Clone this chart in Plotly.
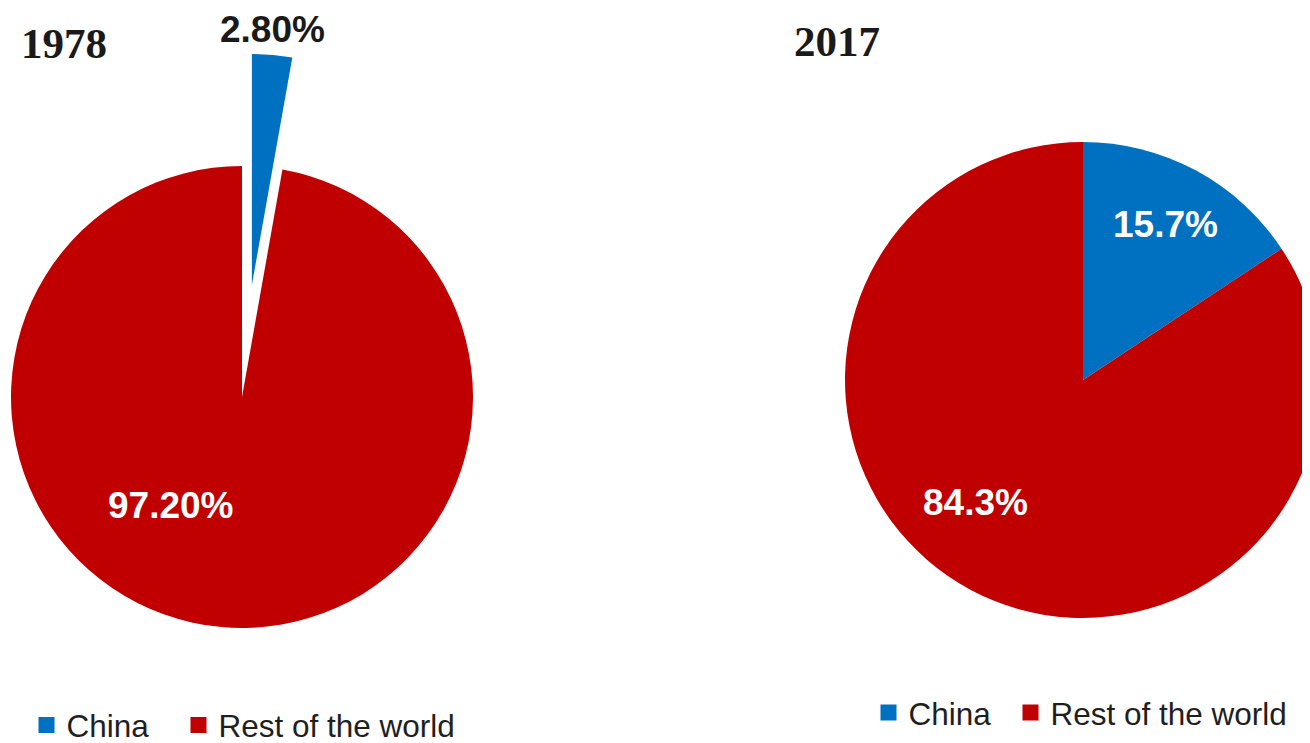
import math
import plotly.graph_objects as go

# ---- data ----
labels = ["China", "Rest of the world"]
values_1978 = [2.80, 97.20]
values_2017 = [15.7, 84.3]
text_1978 = ["2.80%", "97.20%"]
text_2017 = ["15.7%", "84.3%"]
years = ["1978", "2017"]

# ---- style ----
W, H = 1330, 743
OFF = 8  # page body margin offset
BLUE = "#0070C0"
RED = "#C00000"
CLEAR = "rgba(0,0,0,0)"
SANS = "Liberation Sans"
SERIF = "Liberation Serif"


def px(x):
    return (x - OFF) / W


def py(y):
    return 1 - (y - OFF) / H


def dom(cx, cy, r):
    return dict(x=[px(cx - r), px(cx + r)], y=[py(cy + r), py(cy - r)])


# geometry of left pie and exploded slice (screen pixels)
cx1, cy1, r1 = 242, 397, 231
pull = 0.487
mid = math.radians(360 * values_1978[0] / sum(values_1978) / 2)
ex_cx = cx1 + pull * r1 * math.sin(mid)
ex_cy = cy1 - pull * r1 * math.cos(mid)

cx2, cy2, r2 = 1083, 380, 238

common = dict(labels=labels, sort=False, direction="clockwise", rotation=0,
              textinfo="none", hoverinfo="label+percent", showlegend=False)

fig = go.Figure()
fig.add_trace(go.Pie(values=values_1978, domain=dom(cx1, cy1, r1),
                     marker=dict(colors=[CLEAR, RED], line=dict(width=0)), **common))
fig.add_trace(go.Pie(values=values_1978, domain=dom(ex_cx, ex_cy, r1),
                     marker=dict(colors=[BLUE, CLEAR], line=dict(width=0)), **common))
fig.add_trace(go.Pie(values=values_2017, domain=dom(cx2, cy2, r2),
                     marker=dict(colors=[BLUE, RED], line=dict(width=0)), **common))

# legend entries: one legend per item so each can be placed like the reference
legend_ids = ["legend", "legend2", "legend3", "legend4"]
legend_pos = [(46.5, 725), (198.5, 725), (888.5, 712.5), (1030.5, 712.5)]
legend_cols = [BLUE, RED, BLUE, RED]
legend_names = labels + labels
for lg, lab, col in zip(legend_ids, legend_names, legend_cols):
    fig.add_trace(go.Scatter(x=[None], y=[None], mode="markers", name=lab,
                             marker=dict(symbol="square", size=16, color=col,
                                         line=dict(width=0)),
                             legend=lg, showlegend=True, hoverinfo="skip"))

legend_common = dict(orientation="h", xanchor="left", yanchor="middle",
                     bgcolor="rgba(0,0,0,0)", borderwidth=0,
                     font=dict(family=SANS, size=31.5, color="#1f1f1f"))
legends = {}
for lg, (sx, sy) in zip(legend_ids, legend_pos):
    legends[lg] = dict(x=px(sx - 20), y=py(sy), **legend_common)

annotations = [
    dict(text=years[0], x=px(19), y=py(43), xanchor="left", yanchor="middle",
         font=dict(family=SERIF, size=43, color="#1a1a1a", weight="bold")),
    dict(text=years[1], x=px(792), y=py(42), xanchor="left", yanchor="middle",
         font=dict(family=SERIF, size=43, color="#1a1a1a", weight="bold")),
    dict(text=text_1978[0], x=px(272.5), y=py(29), xanchor="center", yanchor="middle",
         font=dict(family=SANS, size=37, color="#1a1a1a", weight="bold")),
    dict(text=text_1978[1], x=px(170.5), y=py(505), xanchor="center", yanchor="middle",
         font=dict(family=SANS, size=37, color="white", weight="bold")),
    dict(text=text_2017[0], x=px(1165.5), y=py(224), xanchor="center", yanchor="middle",
         font=dict(family=SANS, size=37, color="white", weight="bold")),
    dict(text=text_2017[1], x=px(975), y=py(503), xanchor="center", yanchor="middle",
         font=dict(family=SANS, size=37, color="white", weight="bold")),
]
for a in annotations:
    a.update(xref="paper", yref="paper", showarrow=False)

fig.update_layout(
    width=W, height=H,
    margin=dict(l=0, r=0, t=0, b=0, autoexpand=False),
    paper_bgcolor="white", plot_bgcolor="white",
    xaxis=dict(visible=False), yaxis=dict(visible=False),
    annotations=annotations,
    **legends,
)

fig.write_html("out.html")
